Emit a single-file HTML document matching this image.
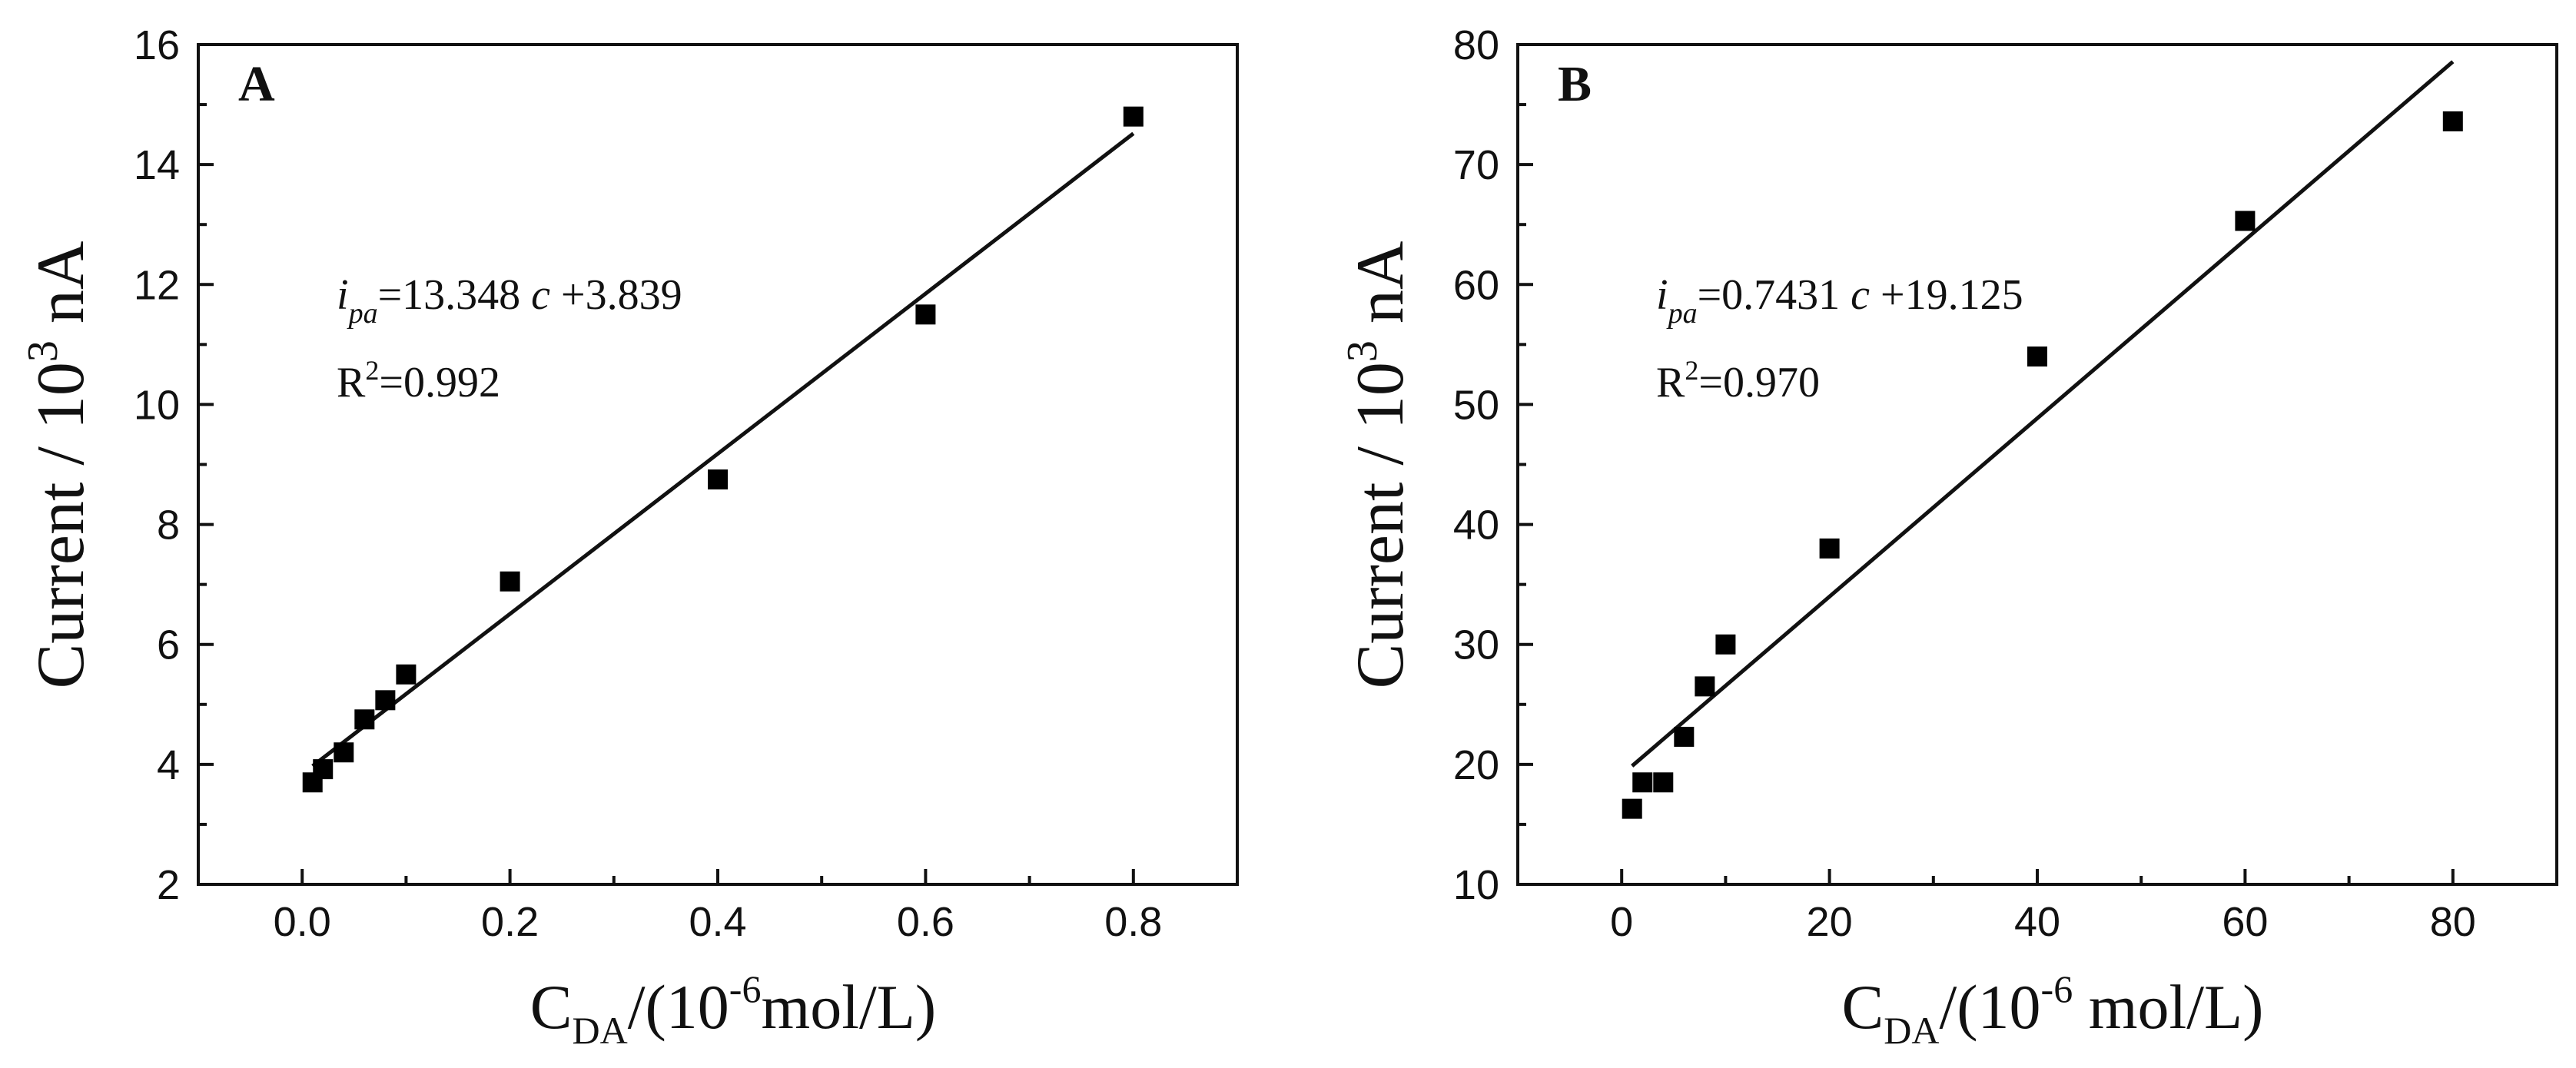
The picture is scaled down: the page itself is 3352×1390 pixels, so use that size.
<!DOCTYPE html>
<html><head><meta charset="utf-8"><style>
html,body{margin:0;padding:0;background:#fff;}
svg{display:block;}
.tk{font-family:"Liberation Sans",Arial,sans-serif;font-size:54px;fill:#111;}
.tt{font-family:"Liberation Serif","Times New Roman",serif;fill:#111;}
</style></head><body>
<svg id="chart" width="3352" height="1390" viewBox="0 0 3352 1390" xmlns="http://www.w3.org/2000/svg"></svg>
<script>
const aX = [0.01,0.02,0.04,0.06,0.08,0.1,0.2,0.4,0.6,0.8];
const aY = [3.7,3.92,4.2,4.75,5.07,5.5,7.05,8.75,11.5,14.8];
const aXTicks = ["0.0","0.2","0.4","0.6","0.8"];
const aYTicks = ["2","4","6","8","10","12","14","16"];
const aFit = [13.348, 3.839];
const bX = [1,2,4,6,8,10,20,40,60,80];
const bY = [16.3,18.5,18.5,22.3,26.5,30,38,54,65.3,73.6];
const bXTicks = ["0","20","40","60","80"];
const bYTicks = ["10","20","30","40","50","60","70","80"];
const bFit = [0.7431, 19.125];

const NS="http://www.w3.org/2000/svg";
const svg=document.getElementById('chart');
function mk(tag,attrs,parent){const e=document.createElementNS(NS,tag);for(const k in attrs)e.setAttribute(k,attrs[k]);(parent||svg).appendChild(e);return e;}

function panel(cfg){
  const g=mk('g',{});
  
  
  const L=cfg.left,R=cfg.right,T=58,B=1151;
  const sx=v=>L+(v-cfg.xmin)/(cfg.xmax-cfg.xmin)*(R-L);
  const sy=v=>B-(v-cfg.ymin)/(cfg.ymax-cfg.ymin)*(B-T);
  const frame=mk('rect',{x:L,y:T,width:R-L,height:B-T,fill:'none',stroke:'#111','stroke-width':4},g);
  
  
  const xs=cfg.xTicks.map(Number);
  const xstep=xs[1]-xs[0];
  for(let v=cfg.xmin;v<=cfg.xmax+1e-9;v+=xstep/2){
    const isMaj=xs.some(t=>Math.abs(t-v)<1e-6);
    const len=isMaj?20:11;
    mk('line',{x1:sx(v),x2:sx(v),y1:B,y2:B-len,stroke:'#111','stroke-width':4},g);
  }
  cfg.xTicks.forEach(t=>{
    const e=mk('text',{x:sx(Number(t)),y:1218,'text-anchor':'middle',class:'tk'},g);
    e.textContent=t;
    
    
  });
  const ys=cfg.yTicks.map(Number);
  const ystep=ys[1]-ys[0];
  for(let v=cfg.ymin;v<=cfg.ymax+1e-9;v+=ystep/2){
    const isMaj=ys.some(t=>Math.abs(t-v)<1e-6);
    const len=isMaj?20:11;
    mk('line',{x1:L,x2:L+len,y1:sy(v),y2:sy(v),stroke:'#111','stroke-width':4},g);
  }
  cfg.yTicks.forEach(t=>{
    const e=mk('text',{x:L-24,y:sy(Number(t))+19,'text-anchor':'end',class:'tk'},g);
    e.textContent=t;
    
    
  });
  const x0=cfg.xs[0],x1=cfg.xs[cfg.xs.length-1];
  const fl=mk('line',{x1:sx(x0),y1:sy(cfg.fit[0]*x0+cfg.fit[1]),x2:sx(x1),y2:sy(cfg.fit[0]*x1+cfg.fit[1]),stroke:'#111','stroke-width':5},g);
  
  
  cfg.xs.forEach((x,i)=>{
    const r=mk('rect',{x:sx(x)-13,y:sy(cfg.ys[i])-13,width:26,height:26,fill:'#000'},g);
    
    
  });
  const pl=mk('text',{x:L+52,y:131,class:'tt','font-size':66,'font-weight':'bold'},g);
  pl.textContent=cfg.letter;
  
  
  const eq=mk('text',{x:L+180,y:402,class:'tt','font-size':56},g);
  eq.innerHTML='<tspan font-style="italic">i</tspan><tspan font-style="italic" font-size="38" dy="18">pa</tspan><tspan dy="-18">='+cfg.fit[0]+' </tspan><tspan font-style="italic">c</tspan><tspan> +'+cfg.fit[1]+'</tspan>';
  
  
  const r2=mk('text',{x:L+180,y:516,class:'tt','font-size':56},g);
  r2.innerHTML='R<tspan font-size="36" dy="-22">2</tspan><tspan dy="22">='+cfg.r2+'</tspan>';
  
  
  const yt=mk('text',{x:0,y:0,class:'tt','font-size':88,'text-anchor':'middle',transform:'translate('+(L-150)+',605) rotate(-90)'},g);
  yt.innerHTML='Current / 10<tspan font-size="56" dy="-34">3</tspan><tspan dy="34"> nA</tspan>';
  
  
  const xt=mk('text',{x:(L+R)/2+20,y:1338,class:'tt','font-size':82,'text-anchor':'middle'},g);
  xt.innerHTML='C<tspan font-size="50" dy="20">DA</tspan><tspan dy="-20">/(10</tspan><tspan font-size="50" dy="-34">-6</tspan><tspan dy="34">'+cfg.unitSpace+'mol/L)</tspan>';
  
  
}
panel({name:'panel-a',letter:'A',left:258,right:1610,xmin:-0.1,xmax:0.9,ymin:2,ymax:16,xTicks:aXTicks,yTicks:aYTicks,xs:aX,ys:aY,fit:aFit,r2:'0.992',unitSpace:''});
panel({name:'panel-b',letter:'B',left:1975,right:3327,xmin:-10,xmax:90,ymin:10,ymax:80,xTicks:bXTicks,yTicks:bYTicks,xs:bX,ys:bY,fit:bFit,r2:'0.970',unitSpace:' '});
</script>
</body></html>
